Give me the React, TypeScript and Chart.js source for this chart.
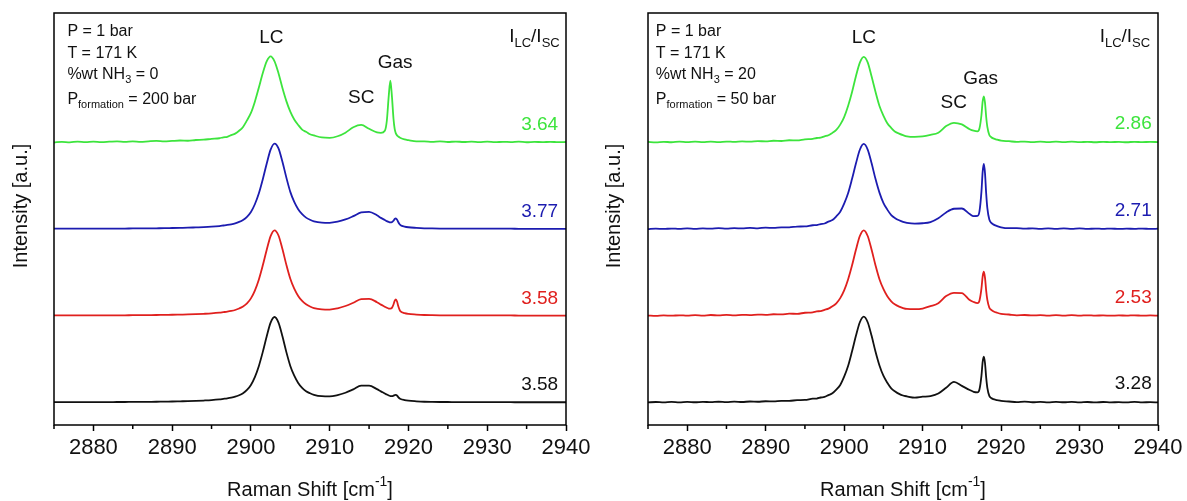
import { useEffect, useRef } from 'react';
import { Chart, registerables } from 'chart.js';

Chart.register(...registerables);

// ---------- data ----------
const X_LEFT = [
  2875, 2876, 2877, 2878, 2879, 2880, 2881, 2882, 2883, 2884, 2885, 2886, 2887, 2888, 2889, 2890, 2891, 2892, 2893, 2894, 2895, 2896,
  2896.5, 2897, 2897.5, 2898, 2898.5, 2899, 2899.5, 2900, 2900.5, 2901, 2901.5, 2902, 2902.5, 2903, 2903.5, 2904, 2904.5, 2905, 2905.5, 2906, 2906.5, 2907, 2907.5, 2908,
  2909, 2910, 2911, 2912, 2913, 2914, 2915, 2916,
  2916.5, 2917, 2917.25, 2917.5, 2917.7, 2917.9, 2918.1, 2918.25, 2918.4, 2918.55, 2918.7, 2918.85, 2919, 2919.5, 2920,
  2921, 2922, 2923, 2924, 2925, 2926, 2927, 2928, 2929, 2930, 2931, 2932, 2933, 2934, 2935, 2936, 2937, 2938, 2939, 2940,
];

const X_RIGHT = [
  2875, 2876, 2877, 2878, 2879, 2880, 2881, 2882, 2883, 2884, 2885, 2886, 2887, 2888, 2889, 2890, 2891, 2892, 2893, 2894, 2895, 2896,
  2896.5, 2897, 2897.5, 2898, 2898.5, 2899, 2899.5, 2900, 2900.5, 2901, 2901.5, 2902, 2902.5, 2903, 2903.5, 2904, 2904.5, 2905, 2905.5, 2906, 2906.5, 2907, 2907.5, 2908,
  2909, 2910, 2911, 2912, 2913, 2914, 2915, 2916,
  2916.5, 2917, 2917.25, 2917.5, 2917.65, 2917.8, 2917.95, 2918.1, 2918.25, 2918.5, 2918.75, 2919, 2919.5, 2920,
  2921, 2922, 2923, 2924, 2925, 2926, 2927, 2928, 2929, 2930, 2931, 2932, 2933, 2934, 2935, 2936, 2937, 2938, 2939, 2940,
];

// left panel: %wt NH3 = 0, P_formation = 200 bar
const L_BLACK = [
  0.003, 0.003, 0.003, 0.003, 0.003, 0.004, 0.004, 0.004, 0.005, 0.005, 0.006, 0.006, 0.007, 0.008, 0.010, 0.011, 0.013, 0.015, 0.018, 0.022, 0.027, 0.035,
  0.041, 0.047, 0.055, 0.066, 0.083, 0.107, 0.144, 0.202, 0.292, 0.418, 0.580, 0.760, 0.920, 0.985, 0.920, 0.762, 0.580, 0.421, 0.308, 0.225, 0.168, 0.130, 0.106, 0.088,
  0.072, 0.070, 0.085, 0.112, 0.151, 0.193, 0.194, 0.153,
  0.128, 0.104, 0.091, 0.080, 0.074, 0.072, 0.078, 0.085, 0.088, 0.079, 0.062, 0.049, 0.040, 0.027, 0.020,
  0.013, 0.008, 0.006, 0.005, 0.005, 0.004, 0.004, 0.004, 0.003, 0.003, 0.003, 0.003, 0.003, 0.002, 0.002, 0.002, 0.002, 0.002, 0.002, 0.002,
];
const L_RED = [
  0.003, 0.003, 0.003, 0.003, 0.004, 0.004, 0.004, 0.005, 0.005, 0.005, 0.006, 0.006, 0.007, 0.008, 0.010, 0.011, 0.013, 0.015, 0.018, 0.022, 0.027, 0.035,
  0.041, 0.047, 0.055, 0.066, 0.083, 0.106, 0.142, 0.200, 0.290, 0.415, 0.578, 0.758, 0.918, 0.985, 0.925, 0.768, 0.586, 0.426, 0.312, 0.228, 0.170, 0.131, 0.106, 0.088,
  0.073, 0.071, 0.085, 0.112, 0.150, 0.192, 0.195, 0.156,
  0.128, 0.104, 0.092, 0.083, 0.081, 0.090, 0.129, 0.172, 0.189, 0.164, 0.112, 0.074, 0.050, 0.029, 0.020,
  0.013, 0.008, 0.006, 0.005, 0.005, 0.004, 0.004, 0.004, 0.003, 0.003, 0.003, 0.003, 0.003, 0.002, 0.002, 0.002, 0.002, 0.002, 0.002, 0.002,
];
const L_BLUE = [
  0.003, 0.003, 0.003, 0.003, 0.003, 0.004, 0.004, 0.004, 0.005, 0.005, 0.006, 0.006, 0.007, 0.008, 0.009, 0.011, 0.013, 0.015, 0.018, 0.021, 0.026, 0.034,
  0.040, 0.046, 0.054, 0.065, 0.081, 0.104, 0.140, 0.196, 0.285, 0.408, 0.570, 0.752, 0.915, 0.985, 0.930, 0.775, 0.592, 0.428, 0.312, 0.228, 0.170, 0.131, 0.106, 0.088,
  0.073, 0.071, 0.084, 0.110, 0.148, 0.190, 0.197, 0.158,
  0.128, 0.104, 0.091, 0.081, 0.076, 0.078, 0.096, 0.115, 0.123, 0.108, 0.080, 0.058, 0.044, 0.028, 0.020,
  0.013, 0.008, 0.006, 0.005, 0.005, 0.004, 0.004, 0.004, 0.003, 0.003, 0.003, 0.003, 0.003, 0.002, 0.002, 0.002, 0.002, 0.002, 0.002, 0.002,
];
const L_GREEN = [
  -0.003, 0.005, -0.001, 0.007, 0.002, 0.008, 0.002, 0.006, 0.011, 0.004, 0.010, 0.004, 0.011, 0.016, 0.009, 0.015, 0.020, 0.017, 0.026, 0.029, 0.039, 0.046,
  0.057, 0.063, 0.082, 0.099, 0.132, 0.176, 0.252, 0.338, 0.468, 0.628, 0.795, 0.932, 0.990, 0.932, 0.795, 0.626, 0.474, 0.352, 0.262, 0.199, 0.146, 0.120, 0.092, 0.078,
  0.055, 0.051, 0.069, 0.110, 0.173, 0.200, 0.155, 0.113,
  0.108, 0.133, 0.245, 0.537, 0.709, 0.529, 0.271, 0.153, 0.102, 0.079, 0.066, 0.057, 0.049, 0.033, 0.024,
  0.010, 0.011, 0.004, 0.009, 0.003, 0.008, 0.003, 0.007, 0.002, 0.006, 0.001, 0.005, 0.002, 0.006, 0.000, 0.004, 0.001, 0.005, 0.001, 0.003,
];

// right panel: %wt NH3 = 20, P_formation = 50 bar
const R_BLACK = [
  0.000, 0.005, 0.001, 0.006, 0.000, 0.006, 0.002, 0.007, 0.003, 0.008, 0.004, 0.009, 0.005, 0.011, 0.008, 0.014, 0.012, 0.019, 0.018, 0.027, 0.029, 0.043,
  0.045, 0.057, 0.064, 0.085, 0.105, 0.147, 0.202, 0.297, 0.420, 0.588, 0.768, 0.925, 0.990, 0.925, 0.768, 0.584, 0.426, 0.308, 0.227, 0.163, 0.127, 0.099, 0.080, 0.070,
  0.056, 0.066, 0.074, 0.103, 0.170, 0.237, 0.191, 0.144,
  0.122, 0.116, 0.152, 0.309, 0.465, 0.529, 0.455, 0.289, 0.169, 0.076, 0.051, 0.038, 0.028, 0.018,
  0.011, 0.004, 0.009, 0.002, 0.007, 0.001, 0.006, 0.002, 0.007, 0.001, 0.005, 0.000, 0.005, 0.001, 0.004, 0.000, 0.006, 0.001, 0.004, 0.000,
];
const R_RED = [
  0.002, -0.002, 0.004, 0.000, 0.005, 0.001, 0.006, 0.002, 0.008, 0.003, 0.009, 0.004, 0.010, 0.007, 0.013, 0.010, 0.017, 0.015, 0.023, 0.022, 0.034, 0.039,
  0.050, 0.053, 0.068, 0.081, 0.109, 0.143, 0.203, 0.292, 0.418, 0.578, 0.760, 0.919, 0.985, 0.919, 0.760, 0.579, 0.420, 0.308, 0.224, 0.166, 0.128, 0.105, 0.088, 0.078,
  0.076, 0.083, 0.110, 0.145, 0.226, 0.264, 0.260, 0.180,
  0.158, 0.146, 0.176, 0.314, 0.452, 0.507, 0.440, 0.290, 0.182, 0.094, 0.067, 0.052, 0.034, 0.021,
  0.014, 0.005, 0.008, 0.003, 0.007, 0.002, 0.006, 0.002, 0.006, 0.001, 0.005, 0.001, 0.004, 0.000, 0.004, 0.001, 0.005, 0.000, 0.003, 0.001,
];
const R_BLUE = [
  -0.002, 0.004, 0.000, 0.005, 0.001, 0.007, 0.001, 0.006, 0.003, 0.009, 0.003, 0.010, 0.006, 0.012, 0.008, 0.015, 0.012, 0.019, 0.018, 0.028, 0.029, 0.043,
  0.045, 0.057, 0.063, 0.085, 0.103, 0.146, 0.199, 0.292, 0.412, 0.576, 0.754, 0.913, 0.980, 0.915, 0.757, 0.575, 0.419, 0.302, 0.223, 0.160, 0.124, 0.100, 0.082, 0.071,
  0.062, 0.066, 0.080, 0.124, 0.191, 0.233, 0.236, 0.172,
  0.149, 0.151, 0.206, 0.433, 0.656, 0.749, 0.645, 0.410, 0.240, 0.108, 0.071, 0.053, 0.033, 0.019,
  0.009, 0.010, 0.003, 0.008, 0.002, 0.007, 0.001, 0.006, 0.002, 0.006, 0.000, 0.005, 0.001, 0.005, 0.000, 0.004, 0.001, 0.005, 0.000, 0.003,
];
const R_GREEN = [
  0.004, -0.002, 0.005, 0.000, 0.006, 0.001, 0.007, 0.001, 0.007, 0.002, 0.008, 0.004, 0.010, 0.006, 0.013, 0.010, 0.017, 0.014, 0.023, 0.022, 0.034, 0.039,
  0.049, 0.053, 0.068, 0.080, 0.108, 0.142, 0.203, 0.290, 0.418, 0.576, 0.761, 0.918, 0.985, 0.921, 0.757, 0.579, 0.418, 0.308, 0.220, 0.165, 0.121, 0.100, 0.082, 0.068,
  0.062, 0.067, 0.085, 0.110, 0.186, 0.224, 0.205, 0.150,
  0.133, 0.126, 0.161, 0.314, 0.467, 0.529, 0.457, 0.294, 0.177, 0.084, 0.058, 0.044, 0.029, 0.018,
  0.012, 0.004, 0.008, 0.002, 0.007, 0.001, 0.006, 0.002, 0.007, 0.001, 0.005, 0.000, 0.005, 0.001, 0.004, 0.000, 0.005, 0.001, 0.004, 0.002,
];

// stacking offsets (black, red, blue, green) and I_LC/I_SC ratios
const OFFSETS = [0.26, 1.26, 2.26, 3.26];
const LEFT_RATIOS = ['3.58', '3.58', '3.77', '3.64'];
const RIGHT_RATIOS = ['3.28', '2.53', '2.71', '2.86'];

const X_MIN = 2875;
const X_MAX = 2940;
const X_STEP = 5;
const Y_MIN = 0;
const Y_MAX = 4.75;

// ---------- styling ----------
const COLORS = ['#111111', '#e0201e', '#1c1cb0', '#3de43d'];
const FONT = '"Liberation Sans", Arial, Helvetica, sans-serif';

type Seg = { t: string; sub?: boolean; sup?: boolean };
type Label = { segs: Seg[]; x: number; y: number; size: number; align: 'left' | 'right' | 'center'; color?: string };

const infoLines = (nh3: string, pf: string): Seg[][] => [
  [{ t: 'P = 1 bar' }],
  [{ t: 'T = 171 K' }],
  [{ t: '%wt NH' }, { t: '3', sub: true }, { t: ' = ' + nh3 }],
  [{ t: 'P' }, { t: 'formation', sub: true }, { t: ' = ' + pf + ' bar' }],
];
const RATIO_SEGS: Seg[] = [{ t: 'I' }, { t: 'LC', sub: true }, { t: '/I' }, { t: 'SC', sub: true }];
const INFO_Y = [4.536, 4.287, 4.035, 3.747];

type PanelCfg = {
  xs: number[];
  series: number[][];
  ratios: string[];
  labels: Label[];
  canvasLeft: number;
  canvasWidth: number;
  yAxisWidth: number;
  padRight: number;
  yTitleX: number;
  ratioX: number;
  ratioDy: number;
};

const makeInfo = (x: number, nh3: string, pf: string): Label[] =>
  infoLines(nh3, pf).map((segs, i) => ({ segs, x, y: INFO_Y[i], size: 16, align: 'left' as const }));

const LEFT: PanelCfg = {
  xs: X_LEFT,
  series: [L_BLACK, L_RED, L_BLUE, L_GREEN],
  ratios: LEFT_RATIOS,
  labels: [
    ...makeInfo(2876.7, '0', '200'),
    { segs: [{ t: 'LC' }], x: 2902.6, y: 4.47, size: 19, align: 'center' },
    { segs: [{ t: 'SC' }], x: 2914.0, y: 3.77, size: 19, align: 'center' },
    { segs: [{ t: 'Gas' }], x: 2918.3, y: 4.18, size: 19, align: 'center' },
    { segs: RATIO_SEGS, x: 2939.2, y: 4.476, size: 19, align: 'right' },
  ],
  canvasLeft: 0,
  canvasWidth: 620,
  yAxisWidth: 54,
  padRight: 54,
  yTitleX: 21,
  ratioX: 2939.0,
  ratioDy: 0.2,
};

const RIGHT: PanelCfg = {
  xs: X_RIGHT,
  series: [R_BLACK, R_RED, R_BLUE, R_GREEN],
  ratios: RIGHT_RATIOS,
  labels: [
    ...makeInfo(2876.0, '20', '50'),
    { segs: [{ t: 'LC' }], x: 2902.5, y: 4.47, size: 19, align: 'center' },
    { segs: [{ t: 'SC' }], x: 2913.96, y: 3.715, size: 19, align: 'center' },
    { segs: [{ t: 'Gas' }], x: 2917.4, y: 3.995, size: 19, align: 'center' },
    { segs: RATIO_SEGS, x: 2939.0, y: 4.476, size: 19, align: 'right' },
  ],
  canvasLeft: 580,
  canvasWidth: 607,
  yAxisWidth: 68,
  padRight: 29,
  yTitleX: 34,
  ratioX: 2939.2,
  ratioDy: 0.21,
};

function drawRich(ctx: CanvasRenderingContext2D, segs: Seg[], x: number, y: number, size: number, align: string, color: string) {
  const small = Math.round(size * 0.68);
  const fontFor = (s: Seg) => `${s.sub || s.sup ? small : size}px ${FONT}`;
  const widths = segs.map((s) => {
    ctx.font = fontFor(s);
    return ctx.measureText(s.t).width;
  });
  const total = widths.reduce((a, b) => a + b, 0);
  let cx = align === 'left' ? x : align === 'right' ? x - total : x - total / 2;
  ctx.fillStyle = color;
  ctx.textBaseline = 'middle';
  ctx.textAlign = 'left';
  segs.forEach((s, i) => {
    ctx.font = fontFor(s);
    const dy = s.sub ? size * 0.34 : s.sup ? -size * 0.38 : 0;
    ctx.fillText(s.t, cx, y + dy);
    cx += widths[i];
  });
}

function Panel({ cfg }: { cfg: PanelCfg }) {
  const ref = useRef<HTMLCanvasElement | null>(null);

  useEffect(() => {
    if (!ref.current) return;
    const decor = {
      id: 'decor',
      afterDraw(chart: any) {
        const { ctx, chartArea: a, scales } = chart;
        const xs = scales.x;
        const ys = scales.y;
        ctx.save();
        // frame
        ctx.strokeStyle = '#000';
        ctx.lineWidth = 1.5;
        ctx.strokeRect(a.left, a.top, a.right - a.left, a.bottom - a.top);
        // minor ticks
        for (let v = X_MIN; v <= X_MAX; v += X_STEP) {
          if (v % 10 === 0) continue;
          const px = xs.getPixelForValue(v);
          ctx.beginPath();
          ctx.moveTo(px, a.bottom);
          ctx.lineTo(px, a.bottom + 4);
          ctx.stroke();
        }
        // annotations
        cfg.labels.forEach((l) => {
          drawRich(ctx, l.segs, xs.getPixelForValue(l.x), ys.getPixelForValue(l.y), l.size, l.align, l.color || '#111');
        });
        cfg.ratios.forEach((r, i) => {
          drawRich(ctx, [{ t: r }], xs.getPixelForValue(cfg.ratioX), ys.getPixelForValue(OFFSETS[i] + cfg.ratioDy), 19, 'right', COLORS[i]);
        });
        // axis titles
        const cxm = (a.left + a.right) / 2;
        const tSegs: Seg[] = [{ t: 'Raman Shift [cm' }, { t: '-1', sup: true }, { t: ']' }];
        drawRich(ctx, tSegs, cxm, 490, 20, 'center', '#111');
        ctx.save();
        ctx.translate(cfg.yTitleX, 206);
        ctx.rotate(-Math.PI / 2);
        drawRich(ctx, [{ t: 'Intensity [a.u.]' }], 0, 0, 20, 'center', '#111');
        ctx.restore();
        ctx.restore();
      },
    };

    const datasets = cfg.series.map((ser, i) => ({
      data: ser.map((v, j) => ({ x: cfg.xs[j], y: v + OFFSETS[i] })),
      borderColor: COLORS[i],
      borderWidth: 1.8,
      pointRadius: 0,
      fill: false,
      cubicInterpolationMode: 'monotone' as const,
    }));

    const chart = new Chart(ref.current, {
      type: 'line',
      data: { datasets },
      options: {
        animation: false,
        responsive: false,
        devicePixelRatio: 1,
        layout: { padding: { left: 0, right: cfg.padRight, top: 13, bottom: 0 }, autoPadding: false } as any,
        plugins: { legend: { display: false }, tooltip: { enabled: false }, title: { display: false } },
        scales: {
          x: {
            type: 'linear',
            min: X_MIN,
            max: X_MAX,
            afterFit: (s: any) => {
              s.height = 76;
            },
            border: { display: false },
            grid: {
              display: true,
              drawOnChartArea: false,
              drawTicks: true,
              tickLength: 6,
              tickWidth: 1.5,
              tickColor: (c: any) => (c.tick && c.tick.value % 10 === 0 ? '#000' : 'rgba(0,0,0,0)'),
            },
            ticks: {
              stepSize: X_STEP,
              autoSkip: false,
              maxRotation: 0,
              minRotation: 0,
              padding: 4,
              color: '#111',
              font: { family: FONT, size: 22 },
              callback: (v: any) => (Number(v) % 10 === 0 ? String(v) : ''),
            },
          },
          y: {
            type: 'linear',
            min: Y_MIN,
            max: Y_MAX,
            afterFit: (s: any) => {
              s.width = cfg.yAxisWidth;
            },
            border: { display: false },
            grid: { display: false },
            ticks: { display: false },
          },
        },
      },
      plugins: [decor],
    });
    return () => chart.destroy();
  }, [cfg]);

  return (
    <canvas
      ref={ref}
      width={cfg.canvasWidth}
      height={501}
      style={{ position: 'absolute', left: cfg.canvasLeft, top: 0, width: cfg.canvasWidth, height: 501 }}
    />
  );
}

export default function App() {
  return (
    <div style={{ position: 'absolute', left: 0, top: 0, width: 1187, height: 501, background: '#fff', overflow: 'hidden' }}>
      <Panel cfg={LEFT} />
      <Panel cfg={RIGHT} />
    </div>
  );
}
